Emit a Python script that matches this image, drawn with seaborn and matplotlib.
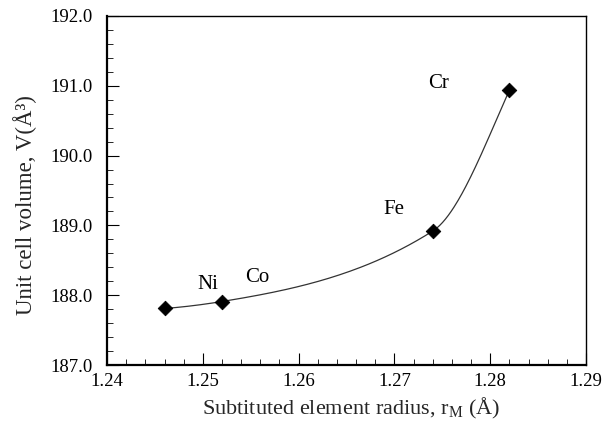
import numpy as np
import pandas as pd
import matplotlib
matplotlib.use("Agg")
import matplotlib.pyplot as plt
import seaborn as sns

# Data
elements = ["Ni", "Co", "Fe", "Cr"]
radius = [1.246, 1.252, 1.274, 1.282]
volume = [187.81, 187.91, 188.92, 190.94]
label_x = [1.2505, 1.2557, 1.2699, 1.2746]
label_y = [188.15, 188.25, 189.23, 191.04]
xticks = [1.24, 1.25, 1.26, 1.27, 1.28, 1.29]
yticks = [187.0, 188.0, 189.0, 190.0, 191.0, 192.0]

sns.set_theme(style="ticks")
plt.rcParams["font.family"] = ["Liberation Serif", "DejaVu Serif"]
plt.rcParams["mathtext.fontset"] = "custom"
plt.rcParams["mathtext.rm"] = "Liberation Serif"
plt.rcParams["mathtext.it"] = "Liberation Serif:italic"

# smooth monotone (PCHIP) curve through the data points
x = np.array(radius, dtype=float)
y = np.array(volume, dtype=float)
h = np.diff(x)
delta = np.diff(y) / h
n = len(x)
d = np.zeros(n)
for k in range(1, n - 1):
    if delta[k - 1] * delta[k] > 0:
        w1 = 2 * h[k] + h[k - 1]
        w2 = h[k] + 2 * h[k - 1]
        d[k] = (w1 + w2) / (w1 / delta[k - 1] + w2 / delta[k])
def end_slope(h0, h1, d0, d1):
    s = ((2 * h0 + h1) * d0 - h0 * d1) / (h0 + h1)
    if np.sign(s) != np.sign(d0):
        s = 0.0
    elif np.sign(d0) != np.sign(d1) and abs(s) > abs(3 * d0):
        s = 3 * d0
    return s
d[0] = end_slope(h[0], h[1], delta[0], delta[1])
d[-1] = end_slope(h[-1], h[-2], delta[-1], delta[-2])
cx, cy = [], []
for k in range(n - 1):
    t = np.linspace(0, 1, 80)
    h00 = 2 * t**3 - 3 * t**2 + 1
    h10 = t**3 - 2 * t**2 + t
    h01 = -2 * t**3 + 3 * t**2
    h11 = t**3 - t**2
    cx.append(x[k] + t * h[k])
    cy.append(h00 * y[k] + h10 * h[k] * d[k] + h01 * y[k + 1] + h11 * h[k] * d[k + 1])
curve_df = pd.DataFrame({"x": np.concatenate(cx), "y": np.concatenate(cy)})
pts_df = pd.DataFrame({"x": radius, "y": volume})

fig = plt.figure(figsize=(6.08, 4.32), dpi=100)
ax = fig.add_axes([0.176, 0.155, 0.788, 0.808])

sns.lineplot(data=curve_df, x="x", y="y", ax=ax, color="#333333", linewidth=0.9, sort=False)
sns.scatterplot(data=pts_df, x="x", y="y", ax=ax, marker="D", s=55, color="black", edgecolor="black", zorder=5)

for name, lx, ly in zip(elements, label_x, label_y):
    ax.text(lx, ly, name, fontsize=15, ha="center", va="center", color="black")

ax.set_xlim(1.24, 1.29)
ax.set_ylim(187.0, 192.0)
ax.set_xticks(xticks)
ax.set_yticks(yticks)
ax.set_xticklabels([f"{v:.2f}" for v in xticks])
ax.set_yticklabels([f"{v:.1f}" for v in yticks])
ax.xaxis.set_minor_locator(matplotlib.ticker.MultipleLocator(0.002))
ax.yaxis.set_minor_locator(matplotlib.ticker.MultipleLocator(0.2))
ax.tick_params(axis="both", which="major", direction="in", length=8.5, width=0.8,
               labelsize=13.5, colors="black")
ax.tick_params(axis="both", which="minor", direction="in", length=4, width=0.7)
ax.tick_params(axis="y", which="major", pad=10)
ax.tick_params(axis="x", which="major", pad=6)

ax.set_xlabel("Subtituted element radius, r$_\\mathrm{M}$ (Å)", fontsize=16)
ax.set_ylabel("Unit cell volume, V(Å³)", fontsize=16.5)
ax.xaxis.label.set_verticalalignment("baseline")
ax.yaxis.label.set_verticalalignment("center")
ax.xaxis.set_label_coords(0.509, -0.142)
ax.yaxis.set_label_coords(-0.171, 0.458)

for side in ["top", "right"]:
    ax.spines[side].set_linewidth(1.0)
for side in ["left", "bottom"]:
    ax.spines[side].set_linewidth(1.6)
for s in ax.spines.values():
    s.set_color("black")

fig.savefig("out.png", dpi=100)
